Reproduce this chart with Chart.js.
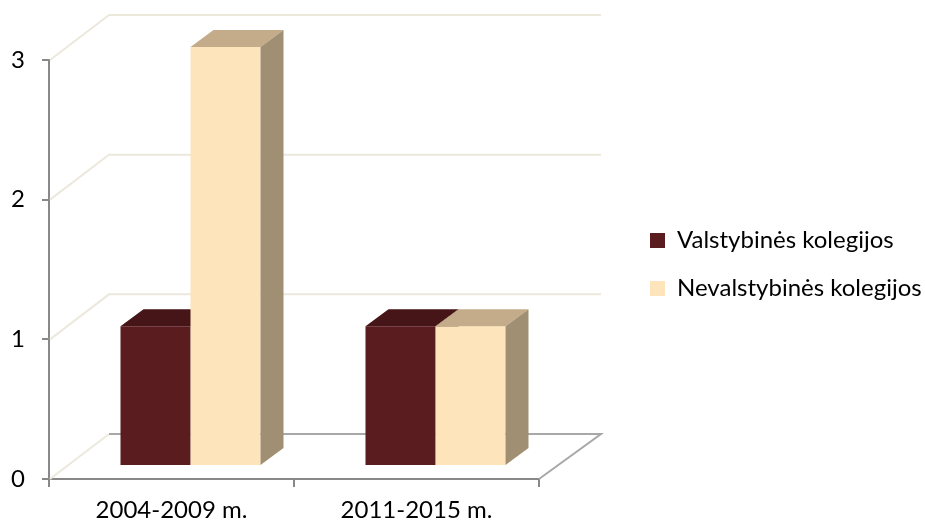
<!DOCTYPE html>
<html><head><meta charset="utf-8">
<style>html,body{margin:0;padding:0;background:#fff;}</style>
<script src="https://cdn.jsdelivr.net/npm/chart.js@4.4.0/dist/chart.umd.min.js"></script>
</head><body>
<canvas id="c" width="925" height="523"></canvas>
<script>
const categories = ['2004-2009 m.', '2011-2015 m.'];
const seriesNames = ['Valstybinės kolegijos', 'Nevalstybinės kolegijos'];
const valstybines = [1, 1];
const nevalstybines = [3, 1];
const yTicks = [0, 1, 2, 3];

const FONT = {family: 'Lato', size: 24};
const BAR_SHIFT = {x: 19, y: -13};
const BAR_DEPTH = {x: 23, y: -17};
const WALL = {xl: 60, xr: 62, y: -45};
const FRONT = ['#5b1c1f', '#fde4bb'];
const TOP = ['#461517', '#c4ab8a'];
const SIDE = ['#3a1113', '#a18f73'];

// legend box sizing (keeps chart area at x 49..539, legend squares at x 650)
const LEG_PAD = 24, LEG_BOX = 15, LEG_AVAIL = 299;
const mctx = document.createElement('canvas').getContext('2d');
mctx.font = FONT.size + 'px ' + FONT.family;
const maxText = Math.max(...seriesNames.map(s => mctx.measureText(s).width));
const legendW = Math.min(LEG_AVAIL, LEG_PAD + LEG_BOX + FONT.size / 2 + maxText + 10);
const padRight = LEG_AVAIL - legendW;

const threeD = {
  id: 'threeD',
  beforeDatasetsDraw(chart) {
    const {ctx, chartArea: a, scales: {y}} = chart;
    ctx.save();
    ctx.lineWidth = 2;
    yTicks.forEach(v => {
      const py = y.getPixelForValue(v);
      ctx.strokeStyle = '#ece9dc';
      ctx.beginPath();
      ctx.moveTo(a.left + 1, py);
      ctx.lineTo(a.left + WALL.xl, py + WALL.y);
      if (v !== 0) ctx.lineTo(a.right + WALL.xr, py + WALL.y);
      ctx.stroke();
    });
    const p0 = y.getPixelForValue(0);
    ctx.strokeStyle = '#a8a8a8';
    ctx.beginPath();
    ctx.moveTo(a.left + WALL.xl, p0 + WALL.y);
    ctx.lineTo(a.right + WALL.xr, p0 + WALL.y);
    ctx.lineTo(a.right, p0);
    ctx.stroke();
    ctx.restore();
  },
  beforeDatasetDraw() { return false; },
  afterDatasetsDraw(chart) {
    const ctx = chart.ctx;
    const metas = [chart.getDatasetMeta(0), chart.getDatasetMeta(1)];
    ctx.save();
    ctx.translate(BAR_SHIFT.x, BAR_SHIFT.y);
    categories.forEach((c, j) => {
      metas.forEach((meta, i) => {
        const el = meta.data[j];
        el.draw(ctx);
        const {x, y, base, width} = el.getProps(['x', 'y', 'base', 'width'], true);
        const l = x - width / 2, r = x + width / 2;
        const dx = BAR_DEPTH.x, dy = BAR_DEPTH.y;
        ctx.fillStyle = TOP[i];
        ctx.beginPath();
        ctx.moveTo(l, y); ctx.lineTo(r, y); ctx.lineTo(r + dx, y + dy); ctx.lineTo(l + dx, y + dy);
        ctx.closePath(); ctx.fill();
        ctx.fillStyle = SIDE[i];
        ctx.beginPath();
        ctx.moveTo(r, y); ctx.lineTo(r + dx, y + dy); ctx.lineTo(r + dx, base + dy); ctx.lineTo(r, base);
        ctx.closePath(); ctx.fill();
      });
    });
    ctx.restore();
  }
};

new Chart(document.getElementById('c'), {
  type: 'bar',
  data: {
    labels: categories,
    datasets: [
      {label: seriesNames[0], data: valstybines, backgroundColor: FRONT[0], borderWidth: 0},
      {label: seriesNames[1], data: nevalstybines, backgroundColor: FRONT[1], borderWidth: 0}
    ]
  },
  options: {
    responsive: false,
    animation: false,
    devicePixelRatio: 1,
    categoryPercentage: 0.5714,
    barPercentage: 1,
    layout: {padding: {top: 6, right: padRight, bottom: 0, left: 0}},
    plugins: {
      tooltip: {enabled: false},
      legend: {
        position: 'right', align: 'center', maxWidth: LEG_AVAIL,
        labels: {boxWidth: LEG_BOX, boxHeight: LEG_BOX, padding: LEG_PAD, color: '#000', font: FONT}
      }
    },
    scales: {
      x: {
        offset: true,
        ticks: {color: '#000', font: FONT, padding: 9},
        grid: {offset: true, drawOnChartArea: false, drawTicks: true, tickLength: 8, color: '#888', lineWidth: 2},
        border: {display: true, color: '#888', width: 2},
        afterFit(s) { s.height = 44; }
      },
      y: {
        min: 0, max: 3,
        afterBuildTicks(s) { s.ticks = yTicks.map(v => ({value: v})); },
        ticks: {color: '#000', font: FONT, padding: 17},
        grid: {drawOnChartArea: false, drawTicks: true, tickLength: 7, color: '#888', lineWidth: 2},
        border: {display: true, color: '#888', width: 2},
        afterFit(s) { s.width = 49; s.paddingTop = 60; }
      },
      y2: {
        position: 'right', display: true,
        grid: {display: false}, ticks: {display: false}, border: {display: false},
        afterFit(s) { s.width = 87; }
      }
    }
  },
  plugins: [threeD]
});
</script>
</body></html>
